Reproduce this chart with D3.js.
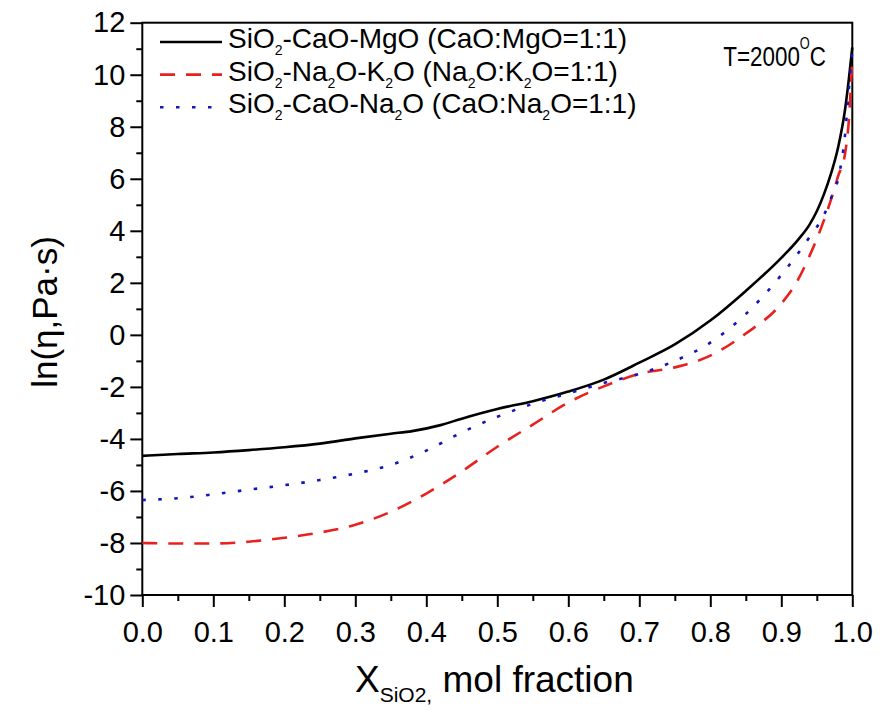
<!DOCTYPE html>
<html>
<head>
<meta charset="utf-8">
<script src="https://cdn.jsdelivr.net/npm/d3@7"></script>
<style>
  html, body { margin: 0; padding: 0; background: #fff; }
  svg { display: block; font-family: "Liberation Sans", Arial, sans-serif; }
</style>
</head>
<body>
<svg width="881" height="711"></svg>
<script>
// mol fraction of SiO2
const xMgO = [0, 0.05, 0.1, 0.15, 0.2, 0.25, 0.3, 0.35, 0.38, 0.42, 0.45, 0.5, 0.55, 0.6, 0.65, 0.7, 0.75, 0.8, 0.85, 0.9, 0.925, 0.94, 0.95, 0.96, 0.97, 0.98, 0.99, 0.995, 1.0];
const lnMgO = [-4.65, -4.58, -4.52, -4.43, -4.32, -4.18, -3.98, -3.80, -3.70, -3.47, -3.22, -2.85, -2.55, -2.18, -1.72, -1.07, -0.37, 0.55, 1.69, 2.96, 3.7, 4.25, 4.75, 5.4, 6.2, 7.2, 8.7, 9.8, 11.05];

const xK2O = [0, 0.05, 0.1, 0.15, 0.2, 0.25, 0.3, 0.35, 0.4, 0.45, 0.5, 0.55, 0.6, 0.65, 0.7, 0.75, 0.8, 0.85, 0.9, 0.92, 0.94, 0.96, 0.97, 0.98, 0.99, 0.995, 1.0];
const lnK2O = [-8.0, -8.02, -8.02, -7.95, -7.8, -7.6, -7.3, -6.8, -6.1, -5.25, -4.3, -3.45, -2.6, -1.98, -1.5, -1.25, -0.8, 0.05, 1.2, 1.95, 3.05, 4.4, 5.2, 6.1, 7.0, 8.2, 10.6];

const xNa2O = [0, 0.05, 0.1, 0.15, 0.2, 0.25, 0.3, 0.35, 0.4, 0.45, 0.5, 0.55, 0.6, 0.65, 0.7, 0.75, 0.8, 0.85, 0.9, 0.92, 0.94, 0.96, 0.97, 0.98, 0.99, 0.995, 1.0];
const lnNa2O = [-6.35, -6.28, -6.13, -5.95, -5.78, -5.58, -5.33, -5.0, -4.45, -3.75, -3.15, -2.65, -2.25, -1.85, -1.5, -1.0, -0.3, 0.8, 2.3, 3.0, 3.77, 4.6, 5.25, 6.0, 7.75, 9.4, 10.9];

const xTicks = [0, 0.1, 0.2, 0.3, 0.4, 0.5, 0.6, 0.7, 0.8, 0.9, 1.0];
const yTicks = [-10, -8, -6, -4, -2, 0, 2, 4, 6, 8, 10, 12];

const svg = d3.select('svg');
const plotLeft = 142.3, plotRight = 852.3, plotTop = 22.7, plotBottom = 595;

const x = d3.scaleLinear().domain([0, 1]).range([plotLeft, plotRight]);
const y = d3.scaleLinear().domain([-10, 12]).range([plotBottom, plotTop]);

// minor ticks first, then major ticks with labels
svg.append('g')
  .attr('transform', `translate(0,${plotBottom})`)
  .call(d3.axisBottom(x).tickValues(d3.range(0.05, 1, 0.1)).tickSize(6).tickFormat(''))
  .call(g => g.select('.domain').remove());
svg.append('g')
  .attr('transform', `translate(${plotLeft},0)`)
  .call(d3.axisLeft(y).tickValues(d3.range(-9, 12, 2)).tickSize(6).tickFormat(''))
  .call(g => g.select('.domain').remove());

const xAxis = svg.append('g')
  .attr('transform', `translate(0,${plotBottom})`)
  .call(d3.axisBottom(x).tickValues(xTicks).tickSize(12).tickPadding(14).tickFormat(d => d.toFixed(1)));
xAxis.select('.domain').remove();
xAxis.selectAll('text').attr('font-size', 29).attr('font-family', '"Liberation Sans", Arial, sans-serif').attr('fill', '#000');

// plain hyphen for negatives, as in the original
const yAxis = svg.append('g')
  .attr('transform', `translate(${plotLeft},0)`)
  .call(d3.axisLeft(y).tickValues(yTicks).tickSize(12).tickPadding(5).tickFormat(d => String(d)));
yAxis.select('.domain').remove();
yAxis.selectAll('text').attr('font-size', 29).attr('font-family', '"Liberation Sans", Arial, sans-serif').attr('fill', '#000');

svg.selectAll('.tick line').attr('stroke', '#000').attr('stroke-width', 2);

// frame
svg.append('rect')
  .attr('x', plotLeft).attr('y', plotTop)
  .attr('width', plotRight - plotLeft).attr('height', plotBottom - plotTop)
  .attr('fill', 'none').attr('stroke', '#000').attr('stroke-width', 2);

const line = d3.line().x(d => x(d[0])).y(d => y(d[1])).curve(d3.curveMonotoneX);

const series = [
  { xs: xMgO, ys: lnMgO, color: '#000', dash: null },
  { xs: xK2O, ys: lnK2O, color: '#e8201e', dash: '15,11' },
  { xs: xNa2O, ys: lnNa2O, color: '#1414bc', dash: '3.5,12.5' }
];

const plot = svg.append('g');
series.forEach(s => {
  plot.append('path')
    .datum(s.xs.map((v, i) => [v, s.ys[i]]))
    .attr('d', line)
    .attr('fill', 'none')
    .attr('stroke', s.color)
    .attr('stroke-width', 2.6)
    .attr('stroke-dasharray', s.dash);
});

// text with subscripts: parts alternate normal / subscript
function richText(g, parts, size, subSize, shift) {
  let down = false;
  parts.forEach((p, i) => {
    const sub = i % 2 === 1;
    let dy = 0;
    if (sub && !down) { dy = shift; down = true; }
    else if (!sub && down) { dy = -shift; down = false; }
    g.append('tspan').attr('font-size', sub ? subSize : size).attr('dy', dy).text(p);
  });
}

const legendRows = [
  ['SiO', '2', '-CaO-MgO (CaO:MgO=1:1)'],
  ['SiO', '2', '-Na', '2', 'O-K', '2', 'O (Na', '2', 'O:K', '2', 'O=1:1)'],
  ['SiO', '2', '-CaO-Na', '2', 'O (CaO:Na', '2', 'O=1:1)']
];
legendRows.forEach((parts, i) => {
  const by = 48 + i * 32.6;
  svg.append('line')
    .attr('x1', 160).attr('x2', 222)
    .attr('y1', by - 6).attr('y2', by - 6)
    .attr('stroke', series[i].color)
    .attr('stroke-width', 2.6)
    .attr('stroke-dasharray', series[i].dash);
  const t = svg.append('text').attr('x', 228).attr('y', by).attr('fill', '#000');
  richText(t, parts, 28, 14, 7);
});

// temperature note, slightly condensed so it stays clear of the frame
const temp = svg.append('text')
  .attr('transform', 'translate(826,66) scale(0.8,1)')
  .attr('text-anchor', 'end').attr('font-size', 28).attr('fill', '#000');
temp.append('tspan').text('T=2000');
temp.append('tspan').attr('font-size', 16).attr('dy', -17).text('O');
temp.append('tspan').attr('dy', 17).text('C');

// axis titles
const xt = svg.append('text').attr('x', 355).attr('y', 692).attr('fill', '#000');
xt.append('tspan').attr('font-size', 37).text('X');
xt.append('tspan').attr('font-size', 21).attr('dy', 10).text('SiO2,');
xt.append('tspan').attr('font-size', 37).attr('dy', -10).text(' mol fraction');

svg.append('text')
  .attr('transform', 'translate(57,312) rotate(-90)')
  .attr('text-anchor', 'middle')
  .attr('font-size', 35)
  .attr('fill', '#000')
  .text('ln(η,Pa·s)');
</script>
</body>
</html>
